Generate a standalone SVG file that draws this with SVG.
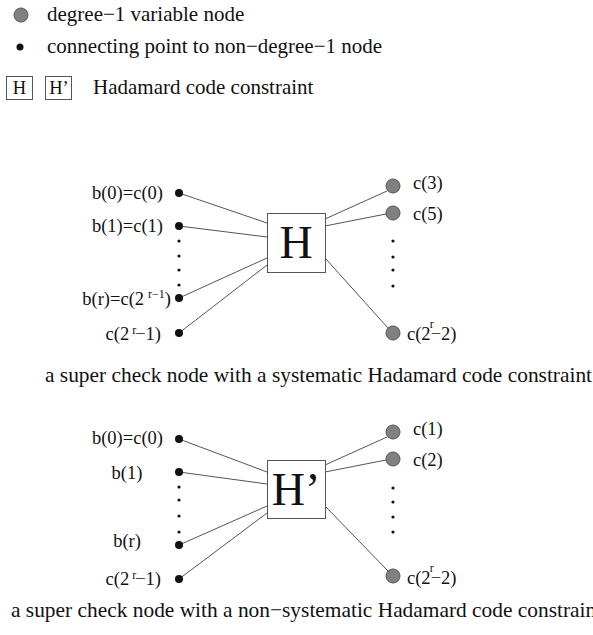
<svg xmlns="http://www.w3.org/2000/svg" width="593" height="635" viewBox="0 0 593 635">
<style>
text{font-family:"Liberation Serif","Times New Roman",serif;font-size:18.5px;fill:#111}
.lg{font-size:21px}
.cap{font-size:21.4px}
.big{font-size:46px}
.sup{font-size:12px}
.var{fill:#808080;stroke:#555;stroke-width:1}
.pt{fill:#111}
.dot{fill:#111}
.box{fill:#fff;stroke:#555;stroke-width:1}
.edge{stroke:#555;stroke-width:1;fill:none}
.end{text-anchor:end}
.mid{text-anchor:middle}
</style>
<g id="legend">
<circle class="var" cx="21" cy="15" r="7"/>
<text x="47" y="21" class="lg">degree−1 variable node</text>
<circle class="pt" cx="20" cy="47" r="3.5"/>
<text x="47" y="53" class="lg">connecting point to non−degree−1 node</text>
<rect class="box" x="6.5" y="76.5" width="26" height="23"/>
<text x="19.5" y="94" class="mid">H</text>
<rect class="box" x="45.5" y="76.5" width="26" height="23"/>
<text x="59" y="94" class="mid">H’</text>
<text x="93" y="94" class="lg">Hadamard code constraint</text>
</g>
<g id="connectors">
<line class="edge" x1="179" y1="193" x2="267" y2="223"/>
<line class="edge" x1="179" y1="226" x2="267" y2="237"/>
<line class="edge" x1="179" y1="298" x2="267" y2="258"/>
<line class="edge" x1="179" y1="333" x2="267" y2="265"/>
<line class="edge" x1="325" y1="219" x2="387" y2="191"/>
<line class="edge" x1="325" y1="226" x2="386" y2="214"/>
<line class="edge" x1="325" y1="258" x2="388" y2="328"/>
<line class="edge" x1="179" y1="439" x2="267" y2="472"/>
<line class="edge" x1="179" y1="472" x2="267" y2="484"/>
<line class="edge" x1="179" y1="545" x2="267" y2="506"/>
<line class="edge" x1="179" y1="579" x2="267" y2="513"/>
<line class="edge" x1="325" y1="465" x2="387" y2="437"/>
<line class="edge" x1="325" y1="472" x2="386" y2="460"/>
<line class="edge" x1="325" y1="506" x2="388" y2="571"/>
</g>
<g id="H">
<rect class="box" x="267.5" y="213.5" width="58" height="59"/>
<text x="296" y="258" class="big mid">H</text>
</g>
<g id="Hp">
<rect class="box" x="267.5" y="460.5" width="58" height="58"/>
<text x="296" y="505" class="big mid">H’</text>
</g>
<g id="top-left">
<circle class="pt" cx="179" cy="193" r="4"/>
<text x="163" y="199" class="end">b(0)=c(0)</text>
<circle class="pt" cx="179" cy="226" r="4"/>
<text x="163" y="232" class="end">b(1)=c(1)</text>
<circle class="dot" cx="179" cy="241" r="1.6"/>
<circle class="dot" cx="179" cy="256" r="1.6"/>
<circle class="dot" cx="179" cy="270" r="1.6"/>
<circle class="dot" cx="179" cy="285" r="1.6"/>
<circle class="pt" cx="179" cy="298" r="4"/>
<text x="171" y="305" class="end">b(r)=c(2<tspan class="sup" dx="4" dy="-7">r−1</tspan><tspan dy="7">)</tspan></text>
<circle class="pt" cx="179" cy="333" r="4"/>
<text x="161" y="340" class="end">c(2<tspan class="sup" dx="3" dy="-6">r</tspan><tspan dx="-1" dy="6">−1)</tspan></text>
</g>
<g id="top-right">
<circle class="var" cx="393" cy="186" r="7"/>
<text x="413" y="189">c(3)</text>
<circle class="var" cx="393" cy="213" r="7"/>
<text x="413" y="220">c(5)</text>
<circle class="dot" cx="393" cy="241" r="1.6"/>
<circle class="dot" cx="393" cy="257" r="1.6"/>
<circle class="dot" cx="393" cy="270" r="1.6"/>
<circle class="dot" cx="393" cy="286" r="1.6"/>
<circle class="var" cx="393" cy="333" r="7"/>
<text x="407" y="340">c(2<tspan class="sup" dx="-1" dy="-12">r</tspan><tspan dx="-3" dy="12">−2)</tspan></text>
</g>
<text x="45" y="382" class="cap">a super check node with a systematic Hadamard code constraint</text>
<g id="bottom-left">
<circle class="pt" cx="179" cy="439" r="4"/>
<text x="163" y="444" class="end">b(0)=c(0)</text>
<circle class="pt" cx="179" cy="472" r="4"/>
<text x="127" y="479" class="mid">b(1)</text>
<circle class="dot" cx="179" cy="487" r="1.6"/>
<circle class="dot" cx="179" cy="500" r="1.6"/>
<circle class="dot" cx="179" cy="516" r="1.6"/>
<circle class="dot" cx="179" cy="532" r="1.6"/>
<circle class="pt" cx="179" cy="545" r="4"/>
<text x="127" y="547" class="mid">b(r)</text>
<circle class="pt" cx="179" cy="579" r="4"/>
<text x="161" y="585" class="end">c(2<tspan class="sup" dx="3" dy="-6">r</tspan><tspan dx="-1" dy="6">−1)</tspan></text>
</g>
<g id="bottom-right">
<circle class="var" cx="393" cy="432" r="7"/>
<text x="413" y="435">c(1)</text>
<circle class="var" cx="393" cy="459" r="7"/>
<text x="413" y="466">c(2)</text>
<circle class="dot" cx="393" cy="488" r="1.6"/>
<circle class="dot" cx="393" cy="502" r="1.6"/>
<circle class="dot" cx="393" cy="517" r="1.6"/>
<circle class="dot" cx="393" cy="532" r="1.6"/>
<circle class="var" cx="393" cy="576" r="7"/>
<text x="407" y="584">c(2<tspan class="sup" dx="-1" dy="-12">r</tspan><tspan dx="-3" dy="12">−2)</tspan></text>
</g>
<text x="11" y="617" class="cap">a super check node with a non−systematic Hadamard code constraint</text>
</svg>
